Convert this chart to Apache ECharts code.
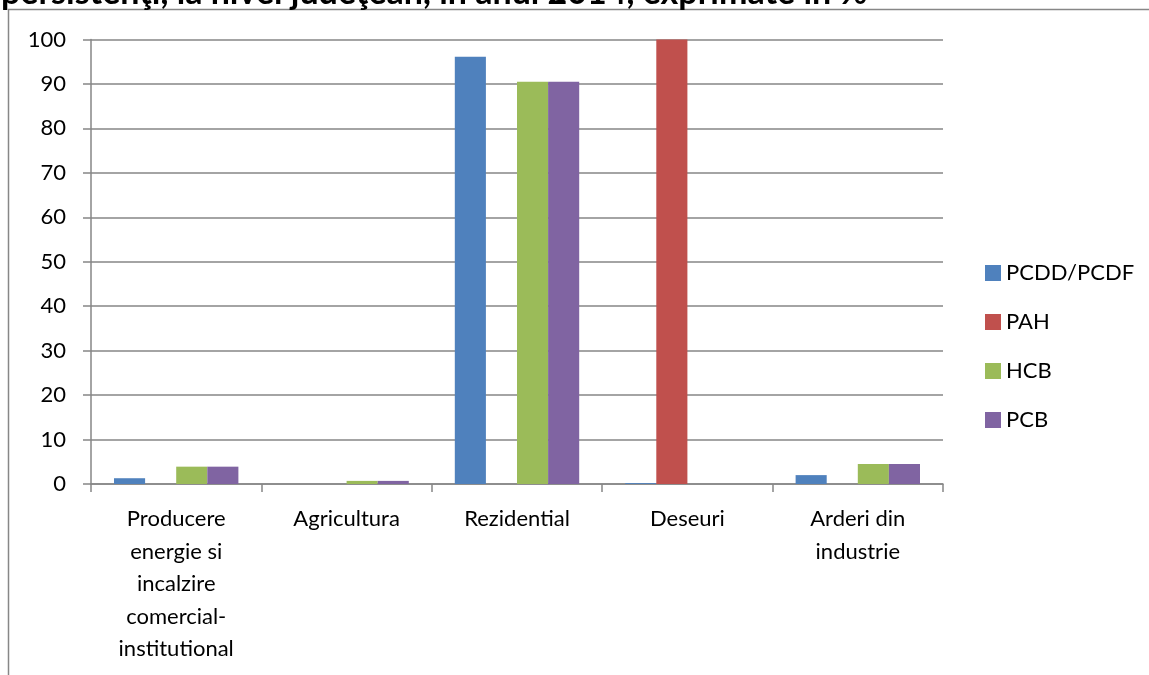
<!DOCTYPE html>
<html>
<head>
<meta charset="utf-8">
<script src="https://cdn.jsdelivr.net/npm/echarts@6/dist/echarts.min.js"></script>
<style>html,body{margin:0;padding:0;background:#fff;}#c{width:1149px;height:675px;}</style>
</head>
<body>
<div id="c"></div>
<script>
const categories = ['Producere\nenergie si\nincalzire\ncomercial-\ninstitutional', 'Agricultura', 'Rezidential', 'Deseuri', 'Arderi din\nindustrie'];
const seriesNames = ['PCDD/PCDF', 'PAH', 'HCB', 'PCB'];
const pcdd = [1.3, 0, 96.1, 0.2, 2.0];
const pah = [0, 0, 0, 100, 0];
const hcb = [3.9, 0.7, 90.5, 0, 4.5];
const pcb = [3.9, 0.7, 90.5, 0, 4.5];
const yTicks = [0, 10, 20, 30, 40, 50, 60, 70, 80, 90, 100];
const colors = ['#4F81BD', '#C0504D', '#9BBB59', '#8064A2'];
const titleText = 'persistenţi, la nivel judeţean, în anul 2014, exprimate în %';

const font = 'Lato, "Noto Sans", sans-serif';
const chart = echarts.init(document.getElementById('c'));
const data = [pcdd, pah, hcb, pcb];
chart.setOption({
  animation: false,
  color: colors,
  title: {
    text: titleText, left: -4, top: -29,
    textStyle: { fontFamily: font, fontWeight: 'bold', fontSize: 34, color: '#000' }
  },
  graphic: [{
    type: 'rect', shape: { x: 8.5, y: 9.5, width: 1200, height: 700 },
    style: { fill: '#fff', stroke: '#878787', lineWidth: 1.5 }, silent: true, z: -1
  }],
  legend: {
    orient: 'vertical', left: 980, top: 257, itemWidth: 16, itemHeight: 16, itemGap: 27,
    itemTextGap: 7,
    icon: 'rect',
    textStyle: { fontFamily: font, fontSize: 22, lineHeight: 22, color: '#000' },
    data: seriesNames
  },
  grid: { left: 91, right: 206, top: 39.5, bottom: 191 },
  xAxis: {
    type: 'category', data: categories,
    axisLine: { lineStyle: { color: '#868686', width: 1.5 } },
    axisTick: { show: true, length: 8, interval: 0, lineStyle: { color: '#868686', width: 1.5 } },
    axisLabel: { interval: 0, margin: 19, lineHeight: 32.5, fontFamily: font, fontSize: 22, color: '#000' }
  },
  yAxis: {
    type: 'value', min: 0, max: 100, interval: 10,
    axisLine: { show: true, lineStyle: { color: '#868686', width: 1.5 } },
    axisTick: { show: true, length: 8, lineStyle: { color: '#868686', width: 1.5 } },
    splitLine: { lineStyle: { color: '#868686', width: 1.5 } },
    axisLabel: { margin: 25, fontFamily: font, fontSize: 22, color: '#000',
      formatter: v => yTicks.includes(v) ? String(v) : '' }
  },
  series: seriesNames.map((n, i) => ({
    name: n, type: 'bar', data: data[i], barGap: '0%', barCategoryGap: '27%'
  }))
});
</script>
</body>
</html>
